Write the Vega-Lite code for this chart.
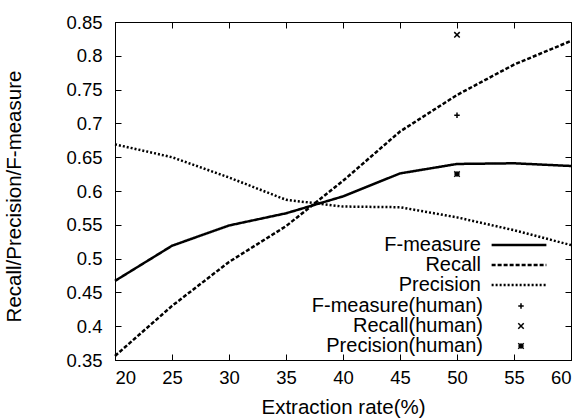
{
  "$schema": "https://vega.github.io/schema/vega-lite/v6.json",
  "width": 456,
  "height": 338,
  "autosize": "none",
  "padding": {"left": 115, "top": 22, "right": 15, "bottom": 59},
  "background": "white",
  "config": {
    "font": "Liberation Sans",
    "view": {"stroke": "black", "strokeWidth": 1},
    "axis": {
      "grid": false,
      "domainColor": "black",
      "tickColor": "black",
      "tickSize": -6,
      "labelColor": "black",
      "titleColor": "black",
      "labelFont": "Liberation Sans",
      "titleFont": "Liberation Sans",
      "labelFontSize": 18.5,
      "titleFontSize": 20.5,
      "titleFontWeight": "normal"
    },
    "legend": {
      "labelFont": "Liberation Sans",
      "labelFontSize": 20,
      "labelColor": "black",
      "labelLimit": 400
    }
  },
  "datasets": {
    "curves": [
      {"rate": 20, "value": 0.467, "series": "F-measure"},
      {"rate": 25, "value": 0.519, "series": "F-measure"},
      {"rate": 30, "value": 0.549, "series": "F-measure"},
      {"rate": 35, "value": 0.567, "series": "F-measure"},
      {"rate": 40, "value": 0.592, "series": "F-measure"},
      {"rate": 45, "value": 0.626, "series": "F-measure"},
      {"rate": 50, "value": 0.640, "series": "F-measure"},
      {"rate": 55, "value": 0.641, "series": "F-measure"},
      {"rate": 60, "value": 0.637, "series": "F-measure"},
      {"rate": 20, "value": 0.356, "series": "Recall"},
      {"rate": 25, "value": 0.430, "series": "Recall"},
      {"rate": 30, "value": 0.495, "series": "Recall"},
      {"rate": 35, "value": 0.548, "series": "Recall"},
      {"rate": 40, "value": 0.615, "series": "Recall"},
      {"rate": 45, "value": 0.688, "series": "Recall"},
      {"rate": 50, "value": 0.742, "series": "Recall"},
      {"rate": 55, "value": 0.787, "series": "Recall"},
      {"rate": 60, "value": 0.822, "series": "Recall"},
      {"rate": 20, "value": 0.669, "series": "Precision"},
      {"rate": 25, "value": 0.650, "series": "Precision"},
      {"rate": 30, "value": 0.620, "series": "Precision"},
      {"rate": 35, "value": 0.587, "series": "Precision"},
      {"rate": 40, "value": 0.577, "series": "Precision"},
      {"rate": 45, "value": 0.576, "series": "Precision"},
      {"rate": 50, "value": 0.561, "series": "Precision"},
      {"rate": 55, "value": 0.542, "series": "Precision"},
      {"rate": 60, "value": 0.520, "series": "Precision"}
    ],
    "human": [
      {"rate": 50, "value": 0.712, "measure": "F-measure(human)"},
      {"rate": 50, "value": 0.831, "measure": "Recall(human)"},
      {"rate": 50, "value": 0.625, "measure": "Precision(human)"}
    ]
  },
  "layer": [
    {
      "data": {"name": "curves"},
      "mark": {"type": "line", "color": "black"},
      "encoding": {
        "x": {
          "field": "rate", "type": "quantitative",
          "scale": {"domain": [20, 60], "nice": false},
          "axis": {"orient": "bottom", "values": [20, 25, 30, 35, 40, 45, 50, 55, 60], "title": "Extraction rate(%)", "labelPadding": 14, "titlePadding": 11}
        },
        "y": {
          "field": "value", "type": "quantitative",
          "scale": {"domain": [0.35, 0.85], "nice": false, "zero": false},
          "axis": {"orient": "left", "values": [0.35, 0.4, 0.45, 0.5, 0.55, 0.6, 0.65, 0.7, 0.75, 0.8, 0.85], "format": ".2~f", "title": "Recall/Precision/F-measure", "labelPadding": 19, "titlePadding": 41, "titleY": 174}
        },
        "strokeDash": {
          "field": "series", "type": "nominal",
          "scale": {"domain": ["F-measure", "Recall", "Precision"], "range": [[1, 0], [4, 2], [2, 2]]},
          "legend": {"title": null, "orient": "none", "legendX": 394, "legendY": 213, "symbolType": "M-10,0L10,0", "symbolSize": 30, "symbolStrokeColor": "black", "symbolStrokeWidth": 2.5, "labelAlign": "right", "labelOffset": -48, "rowPadding": -0.5}
        },
        "strokeWidth": {
          "field": "series", "type": "nominal",
          "scale": {"domain": ["F-measure", "Recall", "Precision"], "range": [2.5, 2.5, 2]},
          "legend": null
        }
      }
    },
    {
      "data": {"name": "human"},
      "mark": {"type": "point", "filled": false, "color": "black", "strokeWidth": 1.5, "size": 30, "opacity": 1},
      "encoding": {
        "x": {
          "field": "rate", "type": "quantitative",
          "axis": {"orient": "top", "values": [20, 25, 30, 35, 40, 45, 50, 55, 60], "labels": false, "title": null}
        },
        "y": {
          "field": "value", "type": "quantitative",
          "axis": {"orient": "right", "values": [0.35, 0.4, 0.45, 0.5, 0.55, 0.6, 0.65, 0.7, 0.75, 0.8, 0.85], "labels": false, "title": null}
        },
        "shape": {
          "field": "measure", "type": "nominal",
          "scale": {"domain": ["F-measure(human)", "Recall(human)", "Precision(human)"], "range": ["M-1,0L1,0M0,-1L0,1", "M-1,-1L1,1M-1,1L1,-1", "M-1,0L1,0M0,-1L0,1M-1,-1L1,1M-1,1L1,-1"]},
          "legend": {"title": null, "orient": "none", "legendX": 396, "legendY": 274, "symbolSize": 30, "symbolStrokeColor": "black", "symbolStrokeWidth": 1.5, "symbolFillColor": "transparent", "labelAlign": "right", "labelOffset": -48, "rowPadding": -0.5}
        }
      }
    }
  ],
  "resolve": {"axis": {"x": "independent", "y": "independent"}}
}
